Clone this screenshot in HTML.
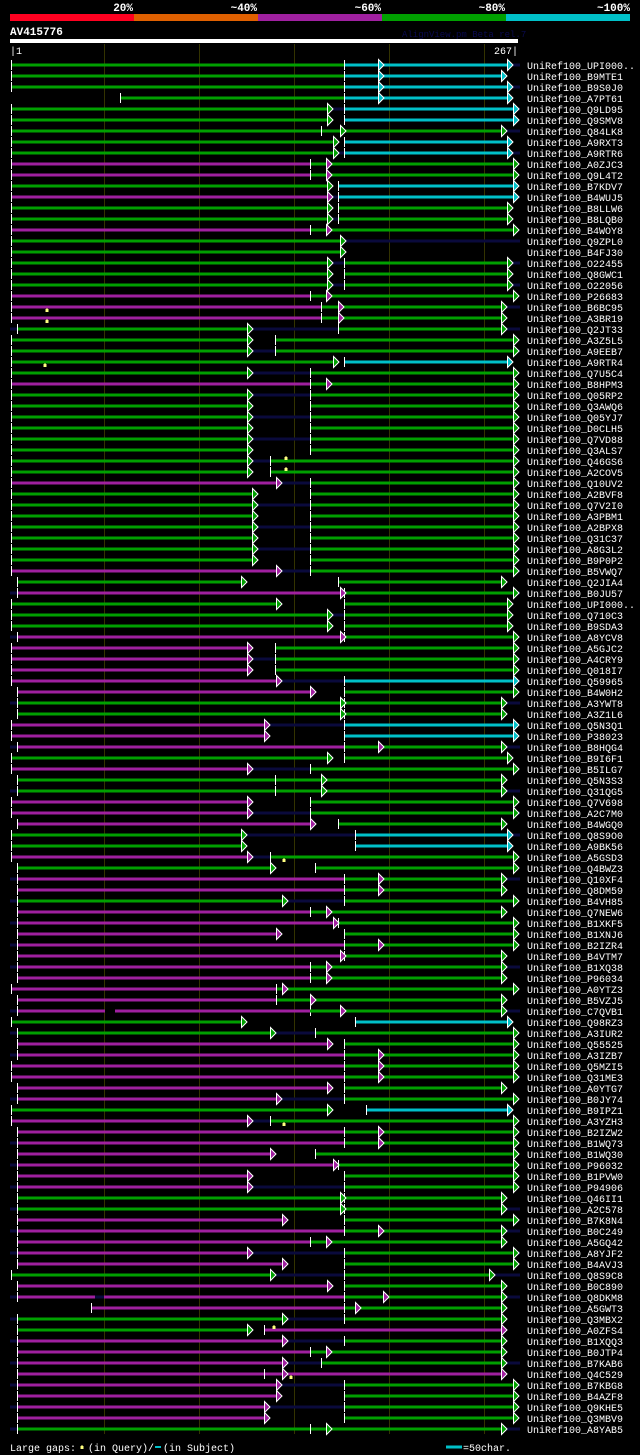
<!DOCTYPE html>
<html><head><meta charset="utf-8"><style>
html,body{margin:0;padding:0;background:#000;}
svg{display:block}
.g{stroke:#00a000;stroke-width:3;fill:none}
.m{stroke:#a020a0;stroke-width:3;fill:none}
.c{stroke:#00c0c8;stroke-width:3;fill:none}
.d{stroke:#0a0a3c;stroke-width:3;fill:none}
.t{stroke:#fff;stroke-width:1;fill:none}
text{font-family:"Liberation Mono","DejaVu Sans Mono",monospace;fill:#fff}
.lb{font-size:10px}
</style></head><body>
<svg width="640" height="1455" xmlns="http://www.w3.org/2000/svg" xmlns:xlink="http://www.w3.org/1999/xlink">
<defs>
<path id="ag" d="M0.5,-5.5L6,0L0.5,5.5Z" fill="#00a000" stroke="#fff" stroke-width="1"/>
<path id="am" d="M0.5,-5.5L6,0L0.5,5.5Z" fill="#a020a0" stroke="#fff" stroke-width="1"/>
<path id="ac" d="M0.5,-5.5L6,0L0.5,5.5Z" fill="#00c0c8" stroke="#fff" stroke-width="1"/>
<path id="mk" d="M-1.5,2h3v-3h-1v-1h-1v1h-1z" fill="#ffff80"/>
</defs>
<rect x="0" y="0" width="640" height="1455" fill="#000"/>
<g font-weight="bold" font-size="11">
<text x="133" y="11" text-anchor="end">20%</text>
<text x="257" y="11" text-anchor="end">~40%</text>
<text x="381" y="11" text-anchor="end">~60%</text>
<text x="505" y="11" text-anchor="end">~80%</text>
<text x="630" y="11" text-anchor="end">~100%</text>
</g>
<rect x="10" y="14" width="124" height="7" fill="#ff0020"/>
<rect x="134" y="14" width="124" height="7" fill="#e06000"/>
<rect x="258" y="14" width="124" height="7" fill="#a020a0"/>
<rect x="382" y="14" width="124" height="7" fill="#00a000"/>
<rect x="506" y="14" width="124" height="7" fill="#00c0c8"/>
<text x="10" y="35" font-size="11" font-weight="bold">AV415776</text>
<text x="402" y="37" font-size="9" style="fill:#0a0a50">AlignView.pm Beta rel.7</text>
<rect x="10" y="39" width="508" height="4" fill="#fff"/>
<text x="10" y="54" font-size="10">|1</text>
<text x="518" y="54" font-size="10" text-anchor="end">267|</text>
<g stroke="#333300" stroke-width="1">
<path d="M104.5,44V1434M199.5,44V1434M294.5,44V1434M389.5,44V1434M484.5,44V1434"/>
</g>

<!-- rows -->
<g transform="translate(0,65)"><path class="d" d="M512,0H520"/><path class="g" d="M11,0H344"/><path class="c" d="M344,0H507"/><path class="t" d="M11.5,-5v10M344.5,-5v10"/><use xlink:href="#ac" x="378"/><use xlink:href="#ac" x="507"/></g>
<g transform="translate(0,76)"><path class="g" d="M11,0H344"/><path class="c" d="M344,0H501"/><path class="t" d="M11.5,-5v10M344.5,-5v10"/><use xlink:href="#ac" x="378"/><use xlink:href="#ac" x="501"/></g>
<g transform="translate(0,87)"><path class="d" d="M512,0H520"/><path class="g" d="M11,0H344"/><path class="c" d="M344,0H507"/><path class="t" d="M11.5,-5v10M344.5,-5v10"/><use xlink:href="#ac" x="378"/><use xlink:href="#ac" x="507"/></g>
<g transform="translate(0,98)"><path class="g" d="M120,0H344"/><path class="c" d="M344,0H507"/><path class="t" d="M120.5,-5v10M344.5,-5v10"/><use xlink:href="#ac" x="378"/><use xlink:href="#ac" x="507"/></g>
<g transform="translate(0,109)"><path class="d" d="M327,0H344M518,0H520"/><path class="g" d="M11,0H327"/><path class="c" d="M344,0H513"/><path class="t" d="M11.5,-5v10M344.5,-5v10"/><use xlink:href="#ag" x="327"/><use xlink:href="#ac" x="513"/></g>
<g transform="translate(0,120)"><path class="g" d="M11,0H327"/><path class="c" d="M344,0H513"/><path class="t" d="M11.5,-5v10M344.5,-5v10"/><use xlink:href="#ag" x="327"/><use xlink:href="#ac" x="513"/></g>
<g transform="translate(0,131)"><path class="d" d="M506,0H520"/><path class="g" d="M11,0H501"/><path class="t" d="M11.5,-5v10M321.5,-5v10"/><use xlink:href="#ag" x="340"/><use xlink:href="#ag" x="501"/></g>
<g transform="translate(0,142)"><path class="g" d="M11,0H333"/><path class="c" d="M344,0H507"/><path class="t" d="M11.5,-5v10M344.5,-5v10"/><use xlink:href="#ag" x="333"/><use xlink:href="#ac" x="507"/></g>
<g transform="translate(0,153)"><path class="d" d="M333,0H344M512,0H520"/><path class="g" d="M11,0H333"/><path class="c" d="M344,0H507"/><path class="t" d="M11.5,-5v10M344.5,-5v10"/><use xlink:href="#ag" x="333"/><use xlink:href="#ac" x="507"/></g>
<g transform="translate(0,164)"><path class="m" d="M11,0H310"/><path class="g" d="M310,0H513"/><path class="t" d="M11.5,-5v10M310.5,-5v10"/><use xlink:href="#am" x="326"/><use xlink:href="#ag" x="513"/></g>
<g transform="translate(0,175)"><path class="m" d="M11,0H310"/><path class="g" d="M310,0H513"/><path class="t" d="M11.5,-5v10M310.5,-5v10"/><use xlink:href="#am" x="326"/><use xlink:href="#ag" x="513"/></g>
<g transform="translate(0,186)"><path class="g" d="M11,0H327"/><path class="c" d="M338,0H513"/><path class="t" d="M11.5,-5v10M338.5,-5v10"/><use xlink:href="#ag" x="327"/><use xlink:href="#ac" x="513"/></g>
<g transform="translate(0,197)"><path class="d" d="M327,0H338M518,0H520"/><path class="m" d="M11,0H327"/><path class="c" d="M338,0H513"/><path class="t" d="M11.5,-5v10M338.5,-5v10"/><use xlink:href="#am" x="327"/><use xlink:href="#ac" x="513"/></g>
<g transform="translate(0,208)"><path class="g" d="M11,0H327M338,0H507"/><path class="t" d="M11.5,-5v10M338.5,-5v10"/><use xlink:href="#ag" x="327"/><use xlink:href="#ag" x="507"/></g>
<g transform="translate(0,219)"><path class="d" d="M327,0H338"/><path class="g" d="M11,0H327M338,0H507"/><path class="t" d="M11.5,-5v10M338.5,-5v10"/><use xlink:href="#ag" x="327"/><use xlink:href="#ag" x="507"/></g>
<g transform="translate(0,230)"><path class="m" d="M11,0H310"/><path class="g" d="M310,0H513"/><path class="t" d="M11.5,-5v10M310.5,-5v10"/><use xlink:href="#am" x="326"/><use xlink:href="#ag" x="513"/></g>
<g transform="translate(0,241)"><path class="d" d="M340,0H520"/><path class="g" d="M11,0H340"/><path class="t" d="M11.5,-5v10"/><use xlink:href="#ag" x="340"/></g>
<g transform="translate(0,252)"><path class="g" d="M11,0H340"/><path class="t" d="M11.5,-5v10"/><use xlink:href="#ag" x="340"/></g>
<g transform="translate(0,263)"><path class="d" d="M327,0H344M512,0H520"/><path class="g" d="M11,0H327M344,0H507"/><path class="t" d="M11.5,-5v10M344.5,-5v10"/><use xlink:href="#ag" x="327"/><use xlink:href="#ag" x="507"/></g>
<g transform="translate(0,274)"><path class="g" d="M11,0H327M344,0H507"/><path class="t" d="M11.5,-5v10M344.5,-5v10"/><use xlink:href="#ag" x="327"/><use xlink:href="#ag" x="507"/></g>
<g transform="translate(0,285)"><path class="d" d="M327,0H344M512,0H520"/><path class="g" d="M11,0H327M344,0H507"/><path class="t" d="M11.5,-5v10M344.5,-5v10"/><use xlink:href="#ag" x="327"/><use xlink:href="#ag" x="507"/></g>
<g transform="translate(0,296)"><path class="m" d="M11,0H310"/><path class="g" d="M310,0H513"/><path class="t" d="M11.5,-5v10M310.5,-5v10"/><use xlink:href="#am" x="326"/><use xlink:href="#ag" x="513"/></g>
<g transform="translate(0,307)"><path class="d" d="M506,0H520"/><path class="m" d="M11,0H321"/><path class="g" d="M321,0H501"/><path class="t" d="M11.5,-5v10M321.5,-5v10"/><use xlink:href="#am" x="338"/><use xlink:href="#ag" x="501"/><use xlink:href="#mk" x="47" y="3"/></g>
<g transform="translate(0,318)"><path class="m" d="M11,0H321"/><path class="g" d="M321,0H501"/><path class="t" d="M11.5,-5v10M321.5,-5v10"/><use xlink:href="#am" x="338"/><use xlink:href="#ag" x="501"/><use xlink:href="#mk" x="47" y="3"/></g>
<g transform="translate(0,329)"><path class="d" d="M10,0H17M247,0H338M506,0H520"/><path class="g" d="M17,0H247M338,0H501"/><path class="t" d="M17.5,-5v10M338.5,-5v10"/><use xlink:href="#ag" x="247"/><use xlink:href="#ag" x="501"/></g>
<g transform="translate(0,340)"><path class="g" d="M11,0H247M275,0H513"/><path class="t" d="M11.5,-5v10M275.5,-5v10"/><use xlink:href="#ag" x="247"/><use xlink:href="#ag" x="513"/></g>
<g transform="translate(0,351)"><path class="d" d="M247,0H275M518,0H520"/><path class="g" d="M11,0H247M275,0H513"/><path class="t" d="M11.5,-5v10M275.5,-5v10"/><use xlink:href="#ag" x="247"/><use xlink:href="#ag" x="513"/></g>
<g transform="translate(0,362)"><path class="g" d="M11,0H333"/><path class="c" d="M344,0H507"/><path class="t" d="M11.5,-5v10M344.5,-5v10"/><use xlink:href="#ag" x="333"/><use xlink:href="#ac" x="507"/><use xlink:href="#mk" x="45" y="3"/></g>
<g transform="translate(0,373)"><path class="d" d="M247,0H310"/><path class="g" d="M11,0H247M310,0H513"/><path class="t" d="M11.5,-5v10M310.5,-5v10"/><use xlink:href="#ag" x="247"/><use xlink:href="#ag" x="513"/></g>
<g transform="translate(0,384)"><path class="m" d="M11,0H310"/><path class="g" d="M310,0H513"/><path class="t" d="M11.5,-5v10M310.5,-5v10"/><use xlink:href="#am" x="326"/><use xlink:href="#ag" x="513"/></g>
<g transform="translate(0,395)"><path class="d" d="M247,0H310M518,0H520"/><path class="g" d="M11,0H247M310,0H513"/><path class="t" d="M11.5,-5v10M310.5,-5v10"/><use xlink:href="#ag" x="247"/><use xlink:href="#ag" x="513"/></g>
<g transform="translate(0,406)"><path class="g" d="M11,0H247M310,0H513"/><path class="t" d="M11.5,-5v10M310.5,-5v10"/><use xlink:href="#ag" x="247"/><use xlink:href="#ag" x="513"/></g>
<g transform="translate(0,417)"><path class="d" d="M247,0H310"/><path class="g" d="M11,0H247M310,0H513"/><path class="t" d="M11.5,-5v10M310.5,-5v10"/><use xlink:href="#ag" x="247"/><use xlink:href="#ag" x="513"/></g>
<g transform="translate(0,428)"><path class="g" d="M11,0H247M310,0H513"/><path class="t" d="M11.5,-5v10M310.5,-5v10"/><use xlink:href="#ag" x="247"/><use xlink:href="#ag" x="513"/></g>
<g transform="translate(0,439)"><path class="d" d="M247,0H310"/><path class="g" d="M11,0H247M310,0H513"/><path class="t" d="M11.5,-5v10M310.5,-5v10"/><use xlink:href="#ag" x="247"/><use xlink:href="#ag" x="513"/></g>
<g transform="translate(0,450)"><path class="g" d="M11,0H247M310,0H513"/><path class="t" d="M11.5,-5v10M310.5,-5v10"/><use xlink:href="#ag" x="247"/><use xlink:href="#ag" x="513"/></g>
<g transform="translate(0,461)"><path class="d" d="M247,0H270M518,0H520"/><path class="g" d="M11,0H247M270,0H513"/><path class="t" d="M11.5,-5v10M270.5,-5v10"/><use xlink:href="#ag" x="247"/><use xlink:href="#ag" x="513"/><use xlink:href="#mk" x="286" y="-3"/></g>
<g transform="translate(0,472)"><path class="g" d="M11,0H247M270,0H513"/><path class="t" d="M11.5,-5v10M270.5,-5v10"/><use xlink:href="#ag" x="247"/><use xlink:href="#ag" x="513"/><use xlink:href="#mk" x="286" y="-3"/></g>
<g transform="translate(0,483)"><path class="d" d="M276,0H310M518,0H520"/><path class="m" d="M11,0H276"/><path class="g" d="M310,0H513"/><path class="t" d="M11.5,-5v10M310.5,-5v10"/><use xlink:href="#am" x="276"/><use xlink:href="#ag" x="513"/></g>
<g transform="translate(0,494)"><path class="g" d="M11,0H252M310,0H513"/><path class="t" d="M11.5,-5v10M310.5,-5v10"/><use xlink:href="#ag" x="252"/><use xlink:href="#ag" x="513"/></g>
<g transform="translate(0,505)"><path class="d" d="M252,0H310M518,0H520"/><path class="g" d="M11,0H252M310,0H513"/><path class="t" d="M11.5,-5v10M310.5,-5v10"/><use xlink:href="#ag" x="252"/><use xlink:href="#ag" x="513"/></g>
<g transform="translate(0,516)"><path class="g" d="M11,0H252M310,0H513"/><path class="t" d="M11.5,-5v10M310.5,-5v10"/><use xlink:href="#ag" x="252"/><use xlink:href="#ag" x="513"/></g>
<g transform="translate(0,527)"><path class="d" d="M252,0H310M518,0H520"/><path class="g" d="M11,0H252M310,0H513"/><path class="t" d="M11.5,-5v10M310.5,-5v10"/><use xlink:href="#ag" x="252"/><use xlink:href="#ag" x="513"/></g>
<g transform="translate(0,538)"><path class="g" d="M11,0H252M310,0H513"/><path class="t" d="M11.5,-5v10M310.5,-5v10"/><use xlink:href="#ag" x="252"/><use xlink:href="#ag" x="513"/></g>
<g transform="translate(0,549)"><path class="d" d="M252,0H310M518,0H520"/><path class="g" d="M11,0H252M310,0H513"/><path class="t" d="M11.5,-5v10M310.5,-5v10"/><use xlink:href="#ag" x="252"/><use xlink:href="#ag" x="513"/></g>
<g transform="translate(0,560)"><path class="g" d="M11,0H252M310,0H513"/><path class="t" d="M11.5,-5v10M310.5,-5v10"/><use xlink:href="#ag" x="252"/><use xlink:href="#ag" x="513"/></g>
<g transform="translate(0,571)"><path class="d" d="M276,0H310M518,0H520"/><path class="m" d="M11,0H276"/><path class="g" d="M310,0H513"/><path class="t" d="M11.5,-5v10M310.5,-5v10"/><use xlink:href="#am" x="276"/><use xlink:href="#ag" x="513"/></g>
<g transform="translate(0,582)"><path class="g" d="M17,0H241M338,0H501"/><path class="t" d="M17.5,-5v10M338.5,-5v10"/><use xlink:href="#ag" x="241"/><use xlink:href="#ag" x="501"/></g>
<g transform="translate(0,593)"><path class="d" d="M10,0H17M518,0H520"/><path class="m" d="M17,0H340"/><path class="g" d="M344,0H513"/><path class="t" d="M17.5,-5v10M344.5,-5v10"/><use xlink:href="#am" x="340"/><use xlink:href="#ag" x="513"/></g>
<g transform="translate(0,604)"><path class="g" d="M11,0H276M344,0H507"/><path class="t" d="M11.5,-5v10M344.5,-5v10"/><use xlink:href="#ag" x="276"/><use xlink:href="#ag" x="507"/></g>
<g transform="translate(0,615)"><path class="d" d="M327,0H344"/><path class="g" d="M11,0H327M344,0H507"/><path class="t" d="M11.5,-5v10M344.5,-5v10"/><use xlink:href="#ag" x="327"/><use xlink:href="#ag" x="507"/></g>
<g transform="translate(0,626)"><path class="g" d="M11,0H327M344,0H507"/><path class="t" d="M11.5,-5v10M344.5,-5v10"/><use xlink:href="#ag" x="327"/><use xlink:href="#ag" x="507"/></g>
<g transform="translate(0,637)"><path class="d" d="M10,0H17"/><path class="m" d="M17,0H340"/><path class="g" d="M344,0H513"/><path class="t" d="M17.5,-5v10M344.5,-5v10"/><use xlink:href="#am" x="340"/><use xlink:href="#ag" x="513"/></g>
<g transform="translate(0,648)"><path class="m" d="M11,0H247"/><path class="g" d="M275,0H513"/><path class="t" d="M11.5,-5v10M275.5,-5v10"/><use xlink:href="#am" x="247"/><use xlink:href="#ag" x="513"/></g>
<g transform="translate(0,659)"><path class="d" d="M247,0H275M518,0H520"/><path class="m" d="M11,0H247"/><path class="g" d="M275,0H513"/><path class="t" d="M11.5,-5v10M275.5,-5v10"/><use xlink:href="#am" x="247"/><use xlink:href="#ag" x="513"/></g>
<g transform="translate(0,670)"><path class="m" d="M11,0H247"/><path class="g" d="M275,0H513"/><path class="t" d="M11.5,-5v10M275.5,-5v10"/><use xlink:href="#am" x="247"/><use xlink:href="#ag" x="513"/></g>
<g transform="translate(0,681)"><path class="d" d="M276,0H344M518,0H520"/><path class="m" d="M11,0H276"/><path class="c" d="M344,0H513"/><path class="t" d="M11.5,-5v10M344.5,-5v10"/><use xlink:href="#am" x="276"/><use xlink:href="#ac" x="513"/></g>
<g transform="translate(0,692)"><path class="m" d="M17,0H310"/><path class="g" d="M344,0H513"/><path class="t" d="M17.5,-5v10M344.5,-5v10"/><use xlink:href="#am" x="310"/><use xlink:href="#ag" x="513"/></g>
<g transform="translate(0,703)"><path class="d" d="M10,0H17M506,0H520"/><path class="g" d="M17,0H340M344,0H501"/><path class="t" d="M17.5,-5v10M344.5,-5v10"/><use xlink:href="#ag" x="340"/><use xlink:href="#ag" x="501"/></g>
<g transform="translate(0,714)"><path class="g" d="M17,0H340M344,0H501"/><path class="t" d="M17.5,-5v10M344.5,-5v10"/><use xlink:href="#ag" x="340"/><use xlink:href="#ag" x="501"/></g>
<g transform="translate(0,725)"><path class="d" d="M264,0H344"/><path class="m" d="M11,0H264"/><path class="c" d="M344,0H513"/><path class="t" d="M11.5,-5v10M344.5,-5v10"/><use xlink:href="#am" x="264"/><use xlink:href="#ac" x="513"/></g>
<g transform="translate(0,736)"><path class="m" d="M11,0H264"/><path class="c" d="M344,0H513"/><path class="t" d="M11.5,-5v10M344.5,-5v10"/><use xlink:href="#am" x="264"/><use xlink:href="#ac" x="513"/></g>
<g transform="translate(0,747)"><path class="d" d="M10,0H17M506,0H520"/><path class="m" d="M17,0H344"/><path class="g" d="M344,0H501"/><path class="t" d="M17.5,-5v10M344.5,-5v10"/><use xlink:href="#am" x="378"/><use xlink:href="#ag" x="501"/></g>
<g transform="translate(0,758)"><path class="g" d="M11,0H327M344,0H507"/><path class="t" d="M11.5,-5v10M344.5,-5v10"/><use xlink:href="#ag" x="327"/><use xlink:href="#ag" x="507"/></g>
<g transform="translate(0,769)"><path class="d" d="M247,0H310"/><path class="m" d="M11,0H247"/><path class="g" d="M310,0H513"/><path class="t" d="M11.5,-5v10M310.5,-5v10"/><use xlink:href="#am" x="247"/><use xlink:href="#ag" x="513"/></g>
<g transform="translate(0,780)"><path class="g" d="M17,0H501"/><path class="t" d="M17.5,-5v10M275.5,-5v10"/><use xlink:href="#ag" x="321"/><use xlink:href="#ag" x="501"/></g>
<g transform="translate(0,791)"><path class="d" d="M10,0H17M506,0H520"/><path class="g" d="M17,0H501"/><path class="t" d="M17.5,-5v10M275.5,-5v10"/><use xlink:href="#ag" x="321"/><use xlink:href="#ag" x="501"/></g>
<g transform="translate(0,802)"><path class="m" d="M11,0H247"/><path class="g" d="M310,0H513"/><path class="t" d="M11.5,-5v10M310.5,-5v10"/><use xlink:href="#am" x="247"/><use xlink:href="#ag" x="513"/></g>
<g transform="translate(0,813)"><path class="d" d="M247,0H310M518,0H520"/><path class="m" d="M11,0H247"/><path class="g" d="M310,0H513"/><path class="t" d="M11.5,-5v10M310.5,-5v10"/><use xlink:href="#am" x="247"/><use xlink:href="#ag" x="513"/></g>
<g transform="translate(0,824)"><path class="m" d="M17,0H310"/><path class="g" d="M338,0H501"/><path class="t" d="M17.5,-5v10M338.5,-5v10"/><use xlink:href="#am" x="310"/><use xlink:href="#ag" x="501"/></g>
<g transform="translate(0,835)"><path class="d" d="M241,0H355M512,0H520"/><path class="g" d="M11,0H241"/><path class="c" d="M355,0H507"/><path class="t" d="M11.5,-5v10M355.5,-5v10"/><use xlink:href="#ag" x="241"/><use xlink:href="#ac" x="507"/></g>
<g transform="translate(0,846)"><path class="g" d="M11,0H241"/><path class="c" d="M355,0H507"/><path class="t" d="M11.5,-5v10M355.5,-5v10"/><use xlink:href="#ag" x="241"/><use xlink:href="#ac" x="507"/></g>
<g transform="translate(0,857)"><path class="d" d="M247,0H270"/><path class="m" d="M11,0H247"/><path class="g" d="M270,0H513"/><path class="t" d="M11.5,-5v10M270.5,-5v10"/><use xlink:href="#am" x="247"/><use xlink:href="#ag" x="513"/><use xlink:href="#mk" x="284" y="3"/></g>
<g transform="translate(0,868)"><path class="g" d="M17,0H270M315,0H513"/><path class="t" d="M17.5,-5v10M315.5,-5v10"/><use xlink:href="#ag" x="270"/><use xlink:href="#ag" x="513"/></g>
<g transform="translate(0,879)"><path class="d" d="M10,0H17M506,0H520"/><path class="m" d="M17,0H344"/><path class="g" d="M344,0H501"/><path class="t" d="M17.5,-5v10M344.5,-5v10"/><use xlink:href="#am" x="378"/><use xlink:href="#ag" x="501"/></g>
<g transform="translate(0,890)"><path class="m" d="M17,0H344"/><path class="g" d="M344,0H501"/><path class="t" d="M17.5,-5v10M344.5,-5v10"/><use xlink:href="#am" x="378"/><use xlink:href="#ag" x="501"/></g>
<g transform="translate(0,901)"><path class="d" d="M10,0H17M282,0H344"/><path class="g" d="M17,0H282M344,0H513"/><path class="t" d="M17.5,-5v10M344.5,-5v10"/><use xlink:href="#ag" x="282"/><use xlink:href="#ag" x="513"/></g>
<g transform="translate(0,912)"><path class="m" d="M17,0H310"/><path class="g" d="M310,0H501"/><path class="t" d="M17.5,-5v10M310.5,-5v10"/><use xlink:href="#am" x="326"/><use xlink:href="#ag" x="501"/></g>
<g transform="translate(0,923)"><path class="d" d="M10,0H17"/><path class="m" d="M17,0H333"/><path class="g" d="M338,0H513"/><path class="t" d="M17.5,-5v10M338.5,-5v10"/><use xlink:href="#am" x="333"/><use xlink:href="#ag" x="513"/></g>
<g transform="translate(0,934)"><path class="m" d="M17,0H276"/><path class="g" d="M344,0H513"/><path class="t" d="M17.5,-5v10M344.5,-5v10"/><use xlink:href="#am" x="276"/><use xlink:href="#ag" x="513"/></g>
<g transform="translate(0,945)"><path class="d" d="M10,0H17"/><path class="m" d="M17,0H344"/><path class="g" d="M344,0H513"/><path class="t" d="M17.5,-5v10M344.5,-5v10"/><use xlink:href="#am" x="378"/><use xlink:href="#ag" x="513"/></g>
<g transform="translate(0,956)"><path class="m" d="M17,0H340"/><path class="g" d="M344,0H501"/><path class="t" d="M17.5,-5v10M344.5,-5v10"/><use xlink:href="#am" x="340"/><use xlink:href="#ag" x="501"/></g>
<g transform="translate(0,967)"><path class="d" d="M10,0H17M506,0H520"/><path class="m" d="M17,0H310"/><path class="g" d="M310,0H501"/><path class="t" d="M17.5,-5v10M310.5,-5v10"/><use xlink:href="#am" x="326"/><use xlink:href="#ag" x="501"/></g>
<g transform="translate(0,978)"><path class="m" d="M17,0H310"/><path class="g" d="M310,0H501"/><path class="t" d="M17.5,-5v10M310.5,-5v10"/><use xlink:href="#am" x="326"/><use xlink:href="#ag" x="501"/></g>
<g transform="translate(0,989)"><path class="m" d="M11,0H276"/><path class="g" d="M276,0H513"/><path class="t" d="M11.5,-5v10M276.5,-5v10"/><use xlink:href="#am" x="282"/><use xlink:href="#ag" x="513"/></g>
<g transform="translate(0,1000)"><path class="m" d="M17,0H276"/><path class="g" d="M276,0H501"/><path class="t" d="M17.5,-5v10M276.5,-5v10"/><use xlink:href="#am" x="310"/><use xlink:href="#ag" x="501"/></g>
<g transform="translate(0,1011)"><path class="d" d="M10,0H17M506,0H520"/><path class="m" d="M17,0H105M115,0H310"/><path class="t" d="M17.5,-5v10M310.5,-5v10"/><path class="g" d="M310,0H501"/><use xlink:href="#am" x="340"/><use xlink:href="#ag" x="501"/></g>
<g transform="translate(0,1022)"><path class="g" d="M11,0H241"/><path class="c" d="M355,0H507"/><path class="t" d="M11.5,-5v10M355.5,-5v10"/><use xlink:href="#ag" x="241"/><use xlink:href="#ac" x="507"/></g>
<g transform="translate(0,1033)"><path class="d" d="M10,0H17M270,0H315"/><path class="g" d="M17,0H270M315,0H513"/><path class="t" d="M17.5,-5v10M315.5,-5v10"/><use xlink:href="#ag" x="270"/><use xlink:href="#ag" x="513"/></g>
<g transform="translate(0,1044)"><path class="m" d="M17,0H327"/><path class="g" d="M344,0H513"/><path class="t" d="M17.5,-5v10M344.5,-5v10"/><use xlink:href="#am" x="327"/><use xlink:href="#ag" x="513"/></g>
<g transform="translate(0,1055)"><path class="d" d="M10,0H17"/><path class="m" d="M17,0H344"/><path class="g" d="M344,0H513"/><path class="t" d="M17.5,-5v10M344.5,-5v10"/><use xlink:href="#am" x="378"/><use xlink:href="#ag" x="513"/></g>
<g transform="translate(0,1066)"><path class="m" d="M11,0H344"/><path class="g" d="M344,0H513"/><path class="t" d="M11.5,-5v10M344.5,-5v10"/><use xlink:href="#am" x="378"/><use xlink:href="#ag" x="513"/></g>
<g transform="translate(0,1077)"><path class="d" d="M518,0H520"/><path class="m" d="M11,0H344"/><path class="g" d="M344,0H513"/><path class="t" d="M11.5,-5v10M344.5,-5v10"/><use xlink:href="#am" x="378"/><use xlink:href="#ag" x="513"/></g>
<g transform="translate(0,1088)"><path class="m" d="M17,0H327"/><path class="g" d="M344,0H501"/><path class="t" d="M17.5,-5v10M344.5,-5v10"/><use xlink:href="#am" x="327"/><use xlink:href="#ag" x="501"/></g>
<g transform="translate(0,1099)"><path class="d" d="M10,0H17M276,0H344"/><path class="m" d="M17,0H276"/><path class="g" d="M344,0H513"/><path class="t" d="M17.5,-5v10M344.5,-5v10"/><use xlink:href="#am" x="276"/><use xlink:href="#ag" x="513"/></g>
<g transform="translate(0,1110)"><path class="g" d="M11,0H327"/><path class="c" d="M366,0H507"/><path class="t" d="M11.5,-5v10M366.5,-5v10"/><use xlink:href="#ag" x="327"/><use xlink:href="#ac" x="507"/></g>
<g transform="translate(0,1121)"><path class="d" d="M247,0H270"/><path class="m" d="M11,0H247"/><path class="g" d="M270,0H513"/><path class="t" d="M11.5,-5v10M270.5,-5v10"/><use xlink:href="#am" x="247"/><use xlink:href="#ag" x="513"/><use xlink:href="#mk" x="284" y="3"/></g>
<g transform="translate(0,1132)"><path class="m" d="M17,0H344"/><path class="g" d="M344,0H513"/><path class="t" d="M17.5,-5v10M344.5,-5v10"/><use xlink:href="#am" x="378"/><use xlink:href="#ag" x="513"/></g>
<g transform="translate(0,1143)"><path class="d" d="M10,0H17"/><path class="m" d="M17,0H344"/><path class="g" d="M344,0H513"/><path class="t" d="M17.5,-5v10M344.5,-5v10"/><use xlink:href="#am" x="378"/><use xlink:href="#ag" x="513"/></g>
<g transform="translate(0,1154)"><path class="m" d="M17,0H270"/><path class="g" d="M315,0H513"/><path class="t" d="M17.5,-5v10M315.5,-5v10"/><use xlink:href="#am" x="270"/><use xlink:href="#ag" x="513"/></g>
<g transform="translate(0,1165)"><path class="d" d="M10,0H17"/><path class="m" d="M17,0H333"/><path class="g" d="M338,0H513"/><path class="t" d="M17.5,-5v10M338.5,-5v10"/><use xlink:href="#am" x="333"/><use xlink:href="#ag" x="513"/></g>
<g transform="translate(0,1176)"><path class="m" d="M17,0H247"/><path class="g" d="M344,0H513"/><path class="t" d="M17.5,-5v10M344.5,-5v10"/><use xlink:href="#am" x="247"/><use xlink:href="#ag" x="513"/></g>
<g transform="translate(0,1187)"><path class="d" d="M10,0H17M247,0H344"/><path class="m" d="M17,0H247"/><path class="g" d="M344,0H513"/><path class="t" d="M17.5,-5v10M344.5,-5v10"/><use xlink:href="#am" x="247"/><use xlink:href="#ag" x="513"/></g>
<g transform="translate(0,1198)"><path class="g" d="M17,0H340M344,0H501"/><path class="t" d="M17.5,-5v10M344.5,-5v10"/><use xlink:href="#ag" x="340"/><use xlink:href="#ag" x="501"/></g>
<g transform="translate(0,1209)"><path class="d" d="M10,0H17M506,0H520"/><path class="g" d="M17,0H340M344,0H501"/><path class="t" d="M17.5,-5v10M344.5,-5v10"/><use xlink:href="#ag" x="340"/><use xlink:href="#ag" x="501"/></g>
<g transform="translate(0,1220)"><path class="m" d="M17,0H282"/><path class="g" d="M344,0H513"/><path class="t" d="M17.5,-5v10M344.5,-5v10"/><use xlink:href="#am" x="282"/><use xlink:href="#ag" x="513"/></g>
<g transform="translate(0,1231)"><path class="d" d="M10,0H17M506,0H520"/><path class="m" d="M17,0H344"/><path class="g" d="M344,0H501"/><path class="t" d="M17.5,-5v10M344.5,-5v10"/><use xlink:href="#am" x="378"/><use xlink:href="#ag" x="501"/></g>
<g transform="translate(0,1242)"><path class="m" d="M17,0H310"/><path class="g" d="M310,0H501"/><path class="t" d="M17.5,-5v10M310.5,-5v10"/><use xlink:href="#am" x="326"/><use xlink:href="#ag" x="501"/></g>
<g transform="translate(0,1253)"><path class="d" d="M10,0H17M247,0H344M518,0H520"/><path class="m" d="M17,0H247"/><path class="g" d="M344,0H513"/><path class="t" d="M17.5,-5v10M344.5,-5v10"/><use xlink:href="#am" x="247"/><use xlink:href="#ag" x="513"/></g>
<g transform="translate(0,1264)"><path class="m" d="M17,0H282"/><path class="g" d="M344,0H513"/><path class="t" d="M17.5,-5v10M344.5,-5v10"/><use xlink:href="#am" x="282"/><use xlink:href="#ag" x="513"/></g>
<g transform="translate(0,1275)"><path class="d" d="M270,0H344M494,0H520"/><path class="g" d="M11,0H270M344,0H489"/><path class="t" d="M11.5,-5v10M344.5,-5v10"/><use xlink:href="#ag" x="270"/><use xlink:href="#ag" x="489"/></g>
<g transform="translate(0,1286)"><path class="m" d="M17,0H327"/><path class="g" d="M344,0H501"/><path class="t" d="M17.5,-5v10M344.5,-5v10"/><use xlink:href="#am" x="327"/><use xlink:href="#ag" x="501"/></g>
<g transform="translate(0,1297)"><path class="d" d="M10,0H17M95,0H104M506,0H520"/><path class="m" d="M17,0H95M104,0H344"/><path class="g" d="M344,0H501"/><path class="t" d="M17.5,-5v10M344.5,-5v10"/><use xlink:href="#am" x="383"/><use xlink:href="#ag" x="501"/></g>
<g transform="translate(0,1308)"><path class="m" d="M91,0H344"/><path class="g" d="M344,0H501"/><path class="t" d="M91.5,-5v10M344.5,-5v10"/><use xlink:href="#am" x="355"/><use xlink:href="#ag" x="501"/></g>
<g transform="translate(0,1319)"><path class="d" d="M10,0H17M282,0H344"/><path class="g" d="M17,0H282M344,0H501"/><path class="t" d="M17.5,-5v10M344.5,-5v10"/><use xlink:href="#ag" x="282"/><use xlink:href="#ag" x="501"/></g>
<g transform="translate(0,1330)"><path class="g" d="M17,0H247"/><path class="m" d="M264,0H501"/><path class="t" d="M17.5,-5v10M264.5,-5v10"/><use xlink:href="#ag" x="247"/><use xlink:href="#am" x="501"/><use xlink:href="#mk" x="274" y="-3"/></g>
<g transform="translate(0,1341)"><path class="d" d="M10,0H17M282,0H344"/><path class="m" d="M17,0H282"/><path class="g" d="M344,0H501"/><path class="t" d="M17.5,-5v10M344.5,-5v10"/><use xlink:href="#am" x="282"/><use xlink:href="#ag" x="501"/></g>
<g transform="translate(0,1352)"><path class="m" d="M17,0H310"/><path class="g" d="M310,0H501"/><path class="t" d="M17.5,-5v10M310.5,-5v10"/><use xlink:href="#am" x="326"/><use xlink:href="#ag" x="501"/></g>
<g transform="translate(0,1363)"><path class="d" d="M10,0H17M282,0H321M506,0H520"/><path class="m" d="M17,0H282"/><path class="g" d="M321,0H501"/><path class="t" d="M17.5,-5v10M321.5,-5v10"/><use xlink:href="#am" x="282"/><use xlink:href="#ag" x="501"/></g>
<g transform="translate(0,1374)"><path class="m" d="M17,0H501"/><path class="t" d="M17.5,-5v10M264.5,-5v10"/><use xlink:href="#am" x="282"/><use xlink:href="#am" x="501"/><use xlink:href="#mk" x="291" y="3"/></g>
<g transform="translate(0,1385)"><path class="d" d="M10,0H17M276,0H344M518,0H520"/><path class="m" d="M17,0H276"/><path class="g" d="M344,0H513"/><path class="t" d="M17.5,-5v10M344.5,-5v10"/><use xlink:href="#am" x="276"/><use xlink:href="#ag" x="513"/></g>
<g transform="translate(0,1396)"><path class="m" d="M17,0H276"/><path class="g" d="M344,0H513"/><path class="t" d="M17.5,-5v10M344.5,-5v10"/><use xlink:href="#am" x="276"/><use xlink:href="#ag" x="513"/></g>
<g transform="translate(0,1407)"><path class="d" d="M10,0H17M264,0H344"/><path class="m" d="M17,0H264"/><path class="g" d="M344,0H513"/><path class="t" d="M17.5,-5v10M344.5,-5v10"/><use xlink:href="#am" x="264"/><use xlink:href="#ag" x="513"/></g>
<g transform="translate(0,1418)"><path class="m" d="M17,0H264"/><path class="g" d="M344,0H513"/><path class="t" d="M17.5,-5v10M344.5,-5v10"/><use xlink:href="#am" x="264"/><use xlink:href="#ag" x="513"/></g>
<g transform="translate(0,1429)"><path class="d" d="M10,0H17M506,0H520"/><path class="g" d="M17,0H501"/><path class="t" d="M17.5,-5v10M310.5,-5v10"/><use xlink:href="#ag" x="326"/><use xlink:href="#ag" x="501"/></g>

<g class="lb">
<text x="527" y="69">UniRef100_UPI000..</text>
<text x="527" y="80">UniRef100_B9MTE1</text>
<text x="527" y="91">UniRef100_B9S0J0</text>
<text x="527" y="102">UniRef100_A7PT61</text>
<text x="527" y="113">UniRef100_Q9LD95</text>
<text x="527" y="124">UniRef100_Q9SMV8</text>
<text x="527" y="135">UniRef100_Q84LK8</text>
<text x="527" y="146">UniRef100_A9RXT3</text>
<text x="527" y="157">UniRef100_A9RTR6</text>
<text x="527" y="168">UniRef100_A0ZJC3</text>
<text x="527" y="179">UniRef100_Q9L4T2</text>
<text x="527" y="190">UniRef100_B7KDV7</text>
<text x="527" y="201">UniRef100_B4WUJ5</text>
<text x="527" y="212">UniRef100_B8LLW6</text>
<text x="527" y="223">UniRef100_B8LQB0</text>
<text x="527" y="234">UniRef100_B4WOY8</text>
<text x="527" y="245">UniRef100_Q9ZPL0</text>
<text x="527" y="256">UniRef100_B4FJ30</text>
<text x="527" y="267">UniRef100_O22455</text>
<text x="527" y="278">UniRef100_Q8GWC1</text>
<text x="527" y="289">UniRef100_O22056</text>
<text x="527" y="300">UniRef100_P26683</text>
<text x="527" y="311">UniRef100_B6BC95</text>
<text x="527" y="322">UniRef100_A3BR19</text>
<text x="527" y="333">UniRef100_Q2JT33</text>
<text x="527" y="344">UniRef100_A3Z5L5</text>
<text x="527" y="355">UniRef100_A9EEB7</text>
<text x="527" y="366">UniRef100_A9RTR4</text>
<text x="527" y="377">UniRef100_Q7U5C4</text>
<text x="527" y="388">UniRef100_B8HPM3</text>
<text x="527" y="399">UniRef100_Q05RP2</text>
<text x="527" y="410">UniRef100_Q3AWQ6</text>
<text x="527" y="421">UniRef100_Q05YJ7</text>
<text x="527" y="432">UniRef100_D0CLH5</text>
<text x="527" y="443">UniRef100_Q7VD88</text>
<text x="527" y="454">UniRef100_Q3ALS7</text>
<text x="527" y="465">UniRef100_Q46GS6</text>
<text x="527" y="476">UniRef100_A2COV5</text>
<text x="527" y="487">UniRef100_Q10UV2</text>
<text x="527" y="498">UniRef100_A2BVF8</text>
<text x="527" y="509">UniRef100_Q7V2I0</text>
<text x="527" y="520">UniRef100_A3PBM1</text>
<text x="527" y="531">UniRef100_A2BPX8</text>
<text x="527" y="542">UniRef100_Q31C37</text>
<text x="527" y="553">UniRef100_A8G3L2</text>
<text x="527" y="564">UniRef100_B9P0P2</text>
<text x="527" y="575">UniRef100_B5VWQ7</text>
<text x="527" y="586">UniRef100_Q2JIA4</text>
<text x="527" y="597">UniRef100_B0JU57</text>
<text x="527" y="608">UniRef100_UPI000..</text>
<text x="527" y="619">UniRef100_Q710C3</text>
<text x="527" y="630">UniRef100_B9SDA3</text>
<text x="527" y="641">UniRef100_A8YCV8</text>
<text x="527" y="652">UniRef100_A5GJC2</text>
<text x="527" y="663">UniRef100_A4CRY9</text>
<text x="527" y="674">UniRef100_Q018I7</text>
<text x="527" y="685">UniRef100_Q59965</text>
<text x="527" y="696">UniRef100_B4W0H2</text>
<text x="527" y="707">UniRef100_A3YWT8</text>
<text x="527" y="718">UniRef100_A3Z1L6</text>
<text x="527" y="729">UniRef100_Q5N3Q1</text>
<text x="527" y="740">UniRef100_P38023</text>
<text x="527" y="751">UniRef100_B8HQG4</text>
<text x="527" y="762">UniRef100_B9I6F1</text>
<text x="527" y="773">UniRef100_B5ILG7</text>
<text x="527" y="784">UniRef100_Q5N3S3</text>
<text x="527" y="795">UniRef100_Q31QG5</text>
<text x="527" y="806">UniRef100_Q7V698</text>
<text x="527" y="817">UniRef100_A2C7M0</text>
<text x="527" y="828">UniRef100_B4WGQ0</text>
<text x="527" y="839">UniRef100_Q8S9O0</text>
<text x="527" y="850">UniRef100_A9BK56</text>
<text x="527" y="861">UniRef100_A5GSD3</text>
<text x="527" y="872">UniRef100_Q4BWZ3</text>
<text x="527" y="883">UniRef100_Q10XF4</text>
<text x="527" y="894">UniRef100_Q8DM59</text>
<text x="527" y="905">UniRef100_B4VH85</text>
<text x="527" y="916">UniRef100_Q7NEW6</text>
<text x="527" y="927">UniRef100_B1XKF5</text>
<text x="527" y="938">UniRef100_B1XNJ6</text>
<text x="527" y="949">UniRef100_B2IZR4</text>
<text x="527" y="960">UniRef100_B4VTM7</text>
<text x="527" y="971">UniRef100_B1XQ38</text>
<text x="527" y="982">UniRef100_P96034</text>
<text x="527" y="993">UniRef100_A0YTZ3</text>
<text x="527" y="1004">UniRef100_B5VZJ5</text>
<text x="527" y="1015">UniRef100_C7QVB1</text>
<text x="527" y="1026">UniRef100_Q98RZ3</text>
<text x="527" y="1037">UniRef100_A3IUR2</text>
<text x="527" y="1048">UniRef100_Q55525</text>
<text x="527" y="1059">UniRef100_A3IZB7</text>
<text x="527" y="1070">UniRef100_Q5MZI5</text>
<text x="527" y="1081">UniRef100_Q31ME3</text>
<text x="527" y="1092">UniRef100_A0YTG7</text>
<text x="527" y="1103">UniRef100_B0JY74</text>
<text x="527" y="1114">UniRef100_B9IPZ1</text>
<text x="527" y="1125">UniRef100_A3YZH3</text>
<text x="527" y="1136">UniRef100_B2IZW2</text>
<text x="527" y="1147">UniRef100_B1WQ73</text>
<text x="527" y="1158">UniRef100_B1WQ30</text>
<text x="527" y="1169">UniRef100_P96032</text>
<text x="527" y="1180">UniRef100_B1PVW0</text>
<text x="527" y="1191">UniRef100_P94906</text>
<text x="527" y="1202">UniRef100_Q46II1</text>
<text x="527" y="1213">UniRef100_A2C578</text>
<text x="527" y="1224">UniRef100_B7K8N4</text>
<text x="527" y="1235">UniRef100_B0C249</text>
<text x="527" y="1246">UniRef100_A5GQ42</text>
<text x="527" y="1257">UniRef100_A8YJF2</text>
<text x="527" y="1268">UniRef100_B4AVJ3</text>
<text x="527" y="1279">UniRef100_Q8S9C8</text>
<text x="527" y="1290">UniRef100_B0C890</text>
<text x="527" y="1301">UniRef100_Q8DKM8</text>
<text x="527" y="1312">UniRef100_A5GWT3</text>
<text x="527" y="1323">UniRef100_Q3MBX2</text>
<text x="527" y="1334">UniRef100_A0ZFS4</text>
<text x="527" y="1345">UniRef100_B1XQQ3</text>
<text x="527" y="1356">UniRef100_B0JTP4</text>
<text x="527" y="1367">UniRef100_B7KAB6</text>
<text x="527" y="1378">UniRef100_Q4C529</text>
<text x="527" y="1389">UniRef100_B7KBG8</text>
<text x="527" y="1400">UniRef100_B4AZF8</text>
<text x="527" y="1411">UniRef100_Q9KHE5</text>
<text x="527" y="1422">UniRef100_Q3MBV9</text>
<text x="527" y="1433">UniRef100_A8YAB5</text>
</g>

<text x="10" y="1451" font-size="10">Large gaps:</text>
<use xlink:href="#mk" x="82" y="1447"/>
<text x="88" y="1451" font-size="10">(in Query)/</text>
<path d="M155,1447H161" stroke="#00c0c8" stroke-width="2"/>
<text x="163" y="1451" font-size="10">(in Subject)</text>
<path d="M446,1447H462" stroke="#00c0c8" stroke-width="3"/>
<text x="463" y="1451" font-size="10">=50char.</text>
</svg>
</body></html>
